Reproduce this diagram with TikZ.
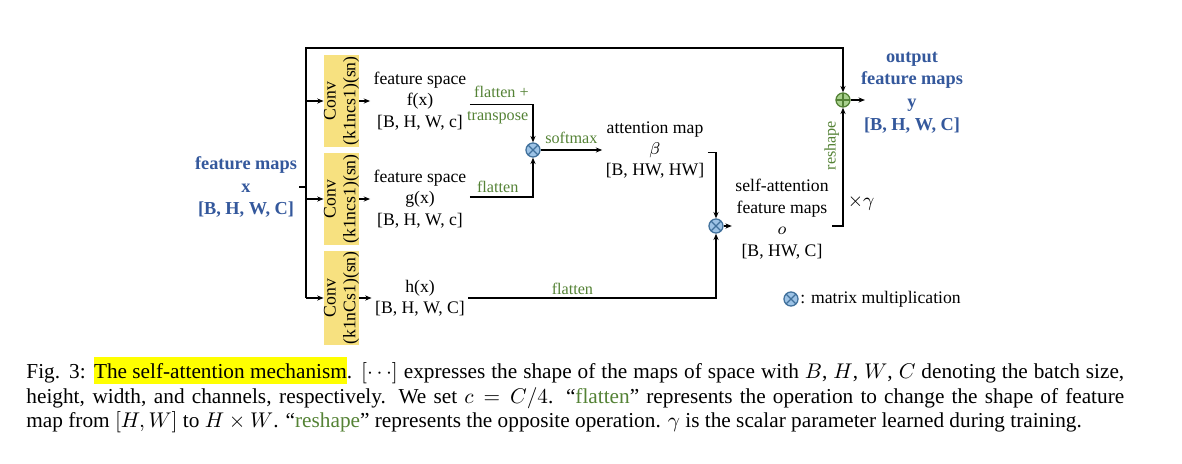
\documentclass[tikz,border=0pt]{standalone}
\usepackage{fontspec}
\setmainfont{Liberation Serif}
\usetikzlibrary{arrows.meta,positioning}
\definecolor{mapblue}{RGB}{52,88,156}
\definecolor{opgreen}{RGB}{84,130,53}
\definecolor{convyellow}{RGB}{247,225,128}
\definecolor{mulfill}{RGB}{157,195,230}
\definecolor{muledge}{RGB}{65,113,156}
\definecolor{addfill}{RGB}{169,209,142}
\definecolor{addedge}{RGB}{83,129,53}
\definecolor{marker}{RGB}{255,255,0}
\newcommand{\opword}[1]{\textcolor{opgreen}{#1}}

\begin{document}
\begin{tikzpicture}[
  x=0.47pt, y=-0.47pt,
  every node/.style={align=center, font=\fontsize{8.3}{10.1}\selectfont},
  tensor/.style={inner sep=1.5pt},
  mapname/.style={inner sep=1pt, text=mapblue,
    font=\fontsize{8.6}{10.7}\selectfont\bfseries},
  conv/.style={fill=convyellow, rotate=90, minimum width=43.7pt,
    minimum height=15.5pt, inner sep=0pt, font=\fontsize{8.3}{9.2}\selectfont},
  op/.style={text=opgreen, font=\fontsize{7.6}{9}\selectfont, inner sep=1.5pt},
  matmul/.style={circle, draw=muledge, fill=mulfill, minimum size=6.6pt,
    inner sep=0pt, semithick,
    path picture={\draw[muledge, semithick]
      (path picture bounding box.north west) -- (path picture bounding box.south east)
      (path picture bounding box.north east) -- (path picture bounding box.south west);}},
  elemadd/.style={circle, draw=addedge, fill=addfill, minimum size=6.6pt,
    inner sep=0pt, semithick,
    path picture={\draw[addedge, semithick]
      (path picture bounding box.north) -- (path picture bounding box.south)
      (path picture bounding box.west) -- (path picture bounding box.east);}},
  flow/.style={-{Stealth[length=3pt,width=2.4pt]}, line width=0.6pt},
  wire/.style={line width=0.6pt}]
\useasboundingbox (0,0) rectangle (1182,463);
\node[mapname] (xin) at (246,187) {feature maps\\x\\{}[B, H, W, C]};
\coordinate (split) at (306,187);
\coordinate (bustop) at (306,48);
\node[conv] (convf) at (341.5,101) {Conv\\(k1ncs1)(sn)};
\node[conv] (convg) at (341.5,199) {Conv\\(k1ncs1)(sn)};
\node[conv] (convh) at (341.5,298) {Conv\\(k1nCs1)(sn)};
\node[tensor] (fmap) at (420,101) {feature space\\f(x)\\{}[B, H, W, c]};
\node[tensor] (gmap) at (420,199) {feature space\\g(x)\\{}[B, H, W, c]};
\node[tensor] (hmap) at (420,298) {h(x)\\{}[B, H, W, C]};
\node[matmul] (mulfg) at (533,150) {};
\node[tensor] (attn) at (655,150) {attention map\\$\beta$\\{}[B, HW, HW]};
\node[matmul] (mulo) at (716,226) {};
\node[tensor] (selfattn) at (782,219)
  {self-attention\\feature maps\\$o$\\{}[B, HW, C]};
\node[elemadd] (addy) at (843,100) {};
\node[mapname] (yout) at (912,92.5) {output\\feature maps\\y\\{}[B, H, W, C]};
\node[matmul] (legendmul) at (791,299) {};
\node[inner sep=0pt, right=0.6pt of legendmul] (legendtext)
  {: matrix multiplication};
\draw[wire] (xin.east) -- (split);
\draw[flow] (split) -- (bustop) -| (addy.north);
\draw[wire] (split) -- (split |- convh);
\draw[flow] (split |- convf) -- (convf);
\draw[flow] (split |- convg) -- (convg);
\draw[flow] (split |- convh) -- (convh);
\draw[flow] (convf) -- (fmap);
\draw[flow] (convg) -- (gmap);
\draw[flow] (convh) -- (hmap);
\draw[flow] ([yshift=-1.8pt]fmap.east) -|
  node[op, pos=0.25, above=1.5pt] {flatten +}
  node[op, pos=0.22, below=1.5pt] {transpose} (mulfg.north);
\draw[flow] ([yshift=1pt]gmap.east) -|
  node[op, pos=0.22, above] {flatten} (mulfg.south);
\draw[flow] (mulfg) -- node[op, above=1pt] {softmax} (attn);
\draw[flow] ([yshift=-1.2pt]attn.east) -| (mulo.north);
\draw[flow] (hmap.east) -|
  node[op, pos=0.21, above] {flatten} (mulo.south);
\draw[flow] (mulo) -- (mulo -| selfattn.west);
\draw[flow] (selfattn.east |- mulo) -|
  node[op, pos=0.84, above, sloped] {reshape}
  node[pos=0.6, right, inner sep=2pt, font=\fontsize{9}{10}\selectfont] {$\times\gamma$}
  (addy.south);
\draw[flow] (addy) -- ([xshift=3pt]addy -| yout.west);
\node[anchor=north west, inner sep=0pt, text width=516pt, align=justify,
  font=\fontsize{10}{11.6}\selectfont] (caption) at (26,357)
  {Fig. 3: {\setlength{\fboxsep}{0pt}\colorbox{marker}{\rule[-2.8pt]{0pt}{12.7pt}The
   self-attention mechanism}}. $[\cdots]$ expresses the shape of the maps of space
   with $B$, $H$, $W$, $C$ denoting the batch size,\linebreak
   height, width, and channels, respectively. We set $c=C/4$.
   ``\opword{flatten}'' represents the operation to change the shape of
   feature\linebreak
   map from $[H,W]$ to $H\times W$. ``\opword{reshape}'' represents the opposite
   operation. $\gamma$ is the scalar parameter learned during training.};
\end{tikzpicture}
\end{document}
